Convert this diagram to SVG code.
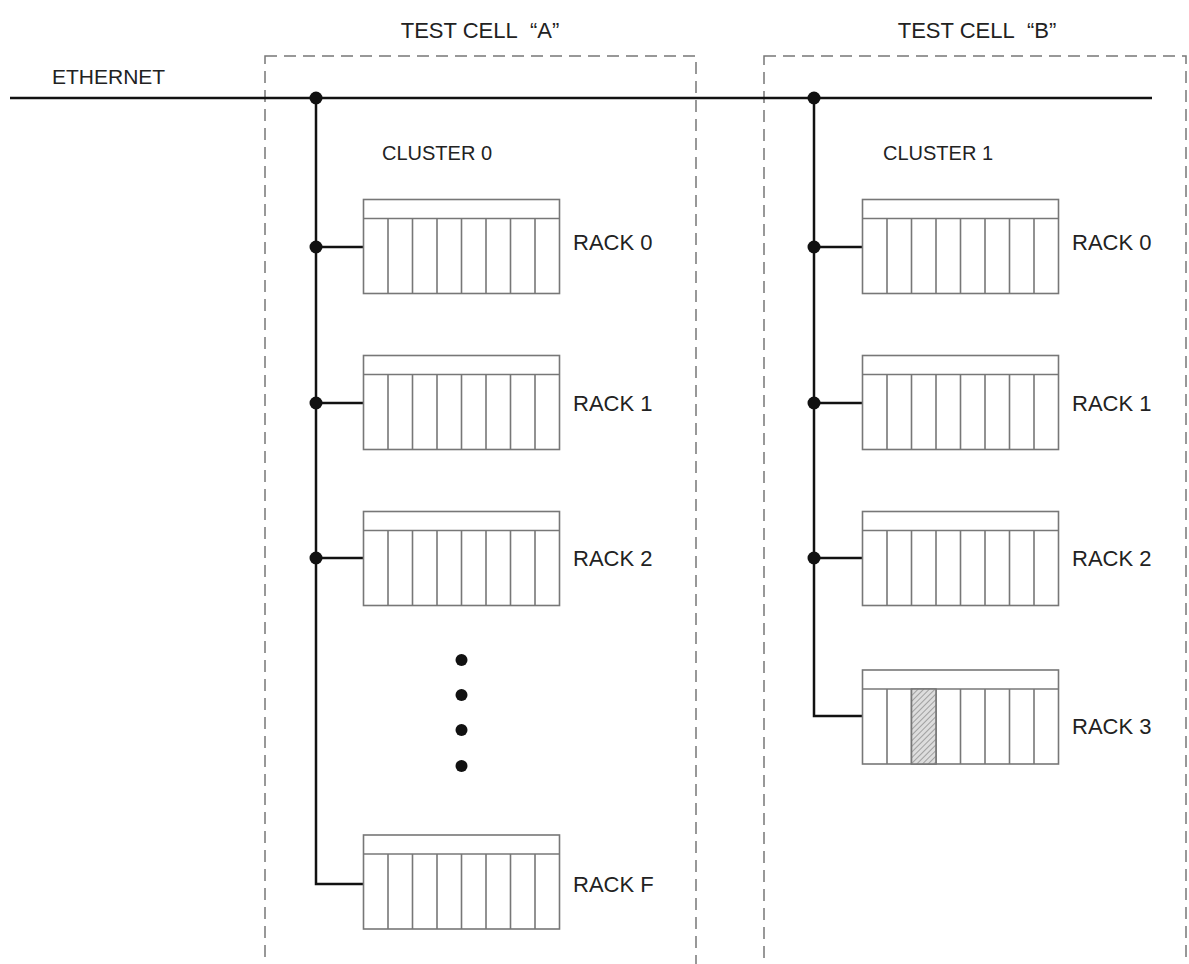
<svg xmlns="http://www.w3.org/2000/svg" width="1189" height="964" viewBox="0 0 1189 964">
<style>
.t{font-family:"Liberation Sans",Arial,sans-serif;fill:#222;}
.cell{fill:none;stroke:#777;stroke-width:1.5;stroke-dasharray:12 7;}
.bus{fill:none;stroke:#111;stroke-width:2.5;}
.rk{fill:#fff;stroke:#777;stroke-width:1.6;}
.sl{stroke:#777;stroke-width:1.6;}
.dot{fill:#111;}
.rl{font-size:22px;}
</style>
<defs>
<pattern id="hatch" patternUnits="userSpaceOnUse" width="4" height="4" patternTransform="rotate(45)">
<rect width="4" height="4" fill="#ddd"/>
<line x1="0" y1="0" x2="0" y2="4" stroke="#777" stroke-width="1.2"/>
</pattern>
<g id="rack">
<rect class="rk" x="0" y="0" width="196" height="94"/>
<line class="sl" x1="0" y1="19" x2="196" y2="19"/>
<line class="sl" x1="24.5" y1="19" x2="24.5" y2="94"/>
<line class="sl" x1="49" y1="19" x2="49" y2="94"/>
<line class="sl" x1="73.5" y1="19" x2="73.5" y2="94"/>
<line class="sl" x1="98" y1="19" x2="98" y2="94"/>
<line class="sl" x1="122.5" y1="19" x2="122.5" y2="94"/>
<line class="sl" x1="147" y1="19" x2="147" y2="94"/>
<line class="sl" x1="171.5" y1="19" x2="171.5" y2="94"/>
</g>
</defs>
<rect width="1189" height="964" fill="#fff"/>

<g id="cellA">
<rect class="cell" x="265" y="56" width="431" height="960"/>
<text class="t" x="480" y="38" font-size="22" text-anchor="middle">TEST CELL&#160; “A”</text>
</g>
<g id="cellB">
<rect class="cell" x="764" y="56" width="422" height="960"/>
<text class="t" x="977" y="38" font-size="22" text-anchor="middle">TEST CELL&#160; “B”</text>
</g>

<text class="t" x="52" y="84" font-size="21">ETHERNET</text>
<text class="t" x="437" y="160" font-size="20" text-anchor="middle">CLUSTER 0</text>
<text class="t" x="938" y="160" font-size="20" text-anchor="middle">CLUSTER 1</text>

<g id="connectors">
<line class="bus" x1="10" y1="98" x2="1152" y2="98"/>
<polyline class="bus" points="316,98 316,884 363,884"/>
<line class="bus" x1="316" y1="247" x2="363" y2="247"/>
<line class="bus" x1="316" y1="403" x2="363" y2="403"/>
<line class="bus" x1="316" y1="558" x2="363" y2="558"/>
<polyline class="bus" points="814,98 814,716 862,716"/>
<line class="bus" x1="814" y1="247" x2="862" y2="247"/>
<line class="bus" x1="814" y1="403" x2="862" y2="403"/>
<line class="bus" x1="814" y1="558" x2="862" y2="558"/>
<circle class="dot" cx="316" cy="98" r="6.5"/>
<circle class="dot" cx="316" cy="247" r="6.5"/>
<circle class="dot" cx="316" cy="403" r="6.5"/>
<circle class="dot" cx="316" cy="558" r="6.5"/>
<circle class="dot" cx="814" cy="98" r="6.5"/>
<circle class="dot" cx="814" cy="247" r="6.5"/>
<circle class="dot" cx="814" cy="403" r="6.5"/>
<circle class="dot" cx="814" cy="558" r="6.5"/>
</g>

<g id="A-rack0"><use href="#rack" x="363.5" y="199.5"/><text class="t rl" x="573" y="250">RACK 0</text></g>
<g id="A-rack1"><use href="#rack" x="363.5" y="355.5"/><text class="t rl" x="573" y="411">RACK 1</text></g>
<g id="A-rack2"><use href="#rack" x="363.5" y="511.5"/><text class="t rl" x="573" y="566">RACK 2</text></g>
<g id="A-ellipsis">
<circle class="dot" cx="461.5" cy="660" r="6"/>
<circle class="dot" cx="461.5" cy="695" r="6"/>
<circle class="dot" cx="461.5" cy="730" r="6"/>
<circle class="dot" cx="461.5" cy="766" r="6"/>
</g>
<g id="A-rackF"><use href="#rack" x="363.5" y="835"/><text class="t rl" x="573" y="892">RACK F</text></g>

<g id="B-rack0"><use href="#rack" x="862.5" y="199.5"/><text class="t rl" x="1072" y="250">RACK 0</text></g>
<g id="B-rack1"><use href="#rack" x="862.5" y="355.5"/><text class="t rl" x="1072" y="411">RACK 1</text></g>
<g id="B-rack2"><use href="#rack" x="862.5" y="511.5"/><text class="t rl" x="1072" y="566">RACK 2</text></g>
<g id="B-rack3"><use href="#rack" x="862.5" y="670"/>
<rect x="911.5" y="689" width="24.5" height="75" fill="url(#hatch)" stroke="#777" stroke-width="1.6"/>
<text class="t rl" x="1072" y="734">RACK 3</text></g>
</svg>
